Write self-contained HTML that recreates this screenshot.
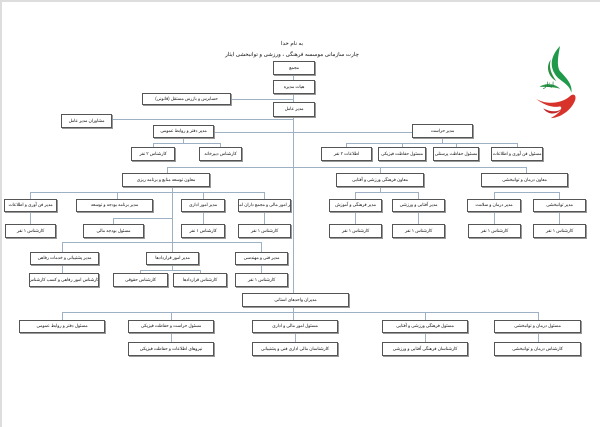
<!DOCTYPE html>
<html><head><meta charset="utf-8"><style>
body{margin:0;width:600px;height:427px;background:#fff;position:relative;overflow:hidden;font-family:"Liberation Sans","Noto Sans CJK SC",sans-serif}
.b{position:absolute;border:1px solid #555;box-shadow:1px 1px 0 #999;background:#fff;font-size:4.3px;line-height:1;display:flex;align-items:center;justify-content:center;color:#111;direction:rtl;white-space:nowrap;overflow:hidden;box-sizing:border-box}
.h{position:absolute;height:1px;background:#9db0c4}
.v{position:absolute;width:1px;background:#9db0c4}
.t{position:absolute;font-size:5.5px;color:#111;direction:rtl;width:600px;text-align:center;left:0}
</style></head><body>
<div style="position:absolute;left:0;top:0;width:600px;height:2px;background:#ddd"></div>
<div style="position:absolute;left:0;top:0;width:2px;height:427px;background:#ddd"></div>
<div class="t" style="top:41px;left:-8px">به نام خدا</div>
<div class="t" style="top:52px;left:-8px">چارت سازمانی موسسه فرهنگی ، ورزشی و توانبخشی ایثار</div>
<!-- lines -->
<div class="v" style="left:293px;top:75px;height:218px"></div>
<div class="h" style="left:231px;top:99px;width:62px"></div>
<div class="h" style="left:112px;top:119px;width:181px"></div>
<div class="h" style="left:214px;top:132px;width:198px"></div>
<div class="h" style="left:153px;top:143px;width:68px"></div>
<div class="v" style="left:183px;top:138px;height:5px"></div>
<div class="v" style="left:153px;top:143px;height:4px"></div>
<div class="v" style="left:220px;top:143px;height:4px"></div>
<div class="h" style="left:346px;top:143px;width:171px"></div>
<div class="v" style="left:442px;top:138px;height:5px"></div>
<div class="v" style="left:346px;top:143px;height:4px"></div>
<div class="v" style="left:402px;top:143px;height:4px"></div>
<div class="v" style="left:456px;top:143px;height:4px"></div>
<div class="v" style="left:517px;top:143px;height:4px"></div>
<div class="h" style="left:167px;top:167px;width:359px"></div>
<div class="v" style="left:167px;top:167px;height:7px"></div>
<div class="v" style="left:380px;top:167px;height:7px"></div>
<div class="v" style="left:526px;top:167px;height:7px"></div>
<div class="h" style="left:30px;top:192px;width:235px"></div>
<div class="v" style="left:30px;top:192px;height:7px"></div>
<div class="v" style="left:117px;top:192px;height:7px"></div>
<div class="v" style="left:203px;top:192px;height:7px"></div>
<div class="v" style="left:264px;top:192px;height:7px"></div>
<div class="v" style="left:172px;top:187px;height:55px"></div>
<div class="v" style="left:30px;top:211px;height:13px"></div>
<div class="h" style="left:113px;top:218px;width:59px"></div>
<div class="v" style="left:113px;top:218px;height:6px"></div>
<div class="v" style="left:203px;top:211px;height:13px"></div>
<div class="v" style="left:264px;top:211px;height:13px"></div>
<div class="h" style="left:355px;top:192px;width:63px"></div>
<div class="v" style="left:380px;top:187px;height:5px"></div>
<div class="v" style="left:355px;top:192px;height:7px"></div>
<div class="v" style="left:418px;top:192px;height:7px"></div>
<div class="v" style="left:355px;top:211px;height:13px"></div>
<div class="v" style="left:418px;top:211px;height:13px"></div>
<div class="h" style="left:494px;top:192px;width:65px"></div>
<div class="v" style="left:494px;top:192px;height:7px"></div>
<div class="v" style="left:559px;top:192px;height:7px"></div>
<div class="v" style="left:494px;top:211px;height:13px"></div>
<div class="v" style="left:559px;top:211px;height:13px"></div>
<div class="h" style="left:62px;top:242px;width:200px"></div>
<div class="v" style="left:62px;top:242px;height:10px"></div>
<div class="v" style="left:172px;top:242px;height:10px"></div>
<div class="v" style="left:261px;top:242px;height:10px"></div>
<div class="v" style="left:62px;top:265px;height:8px"></div>
<div class="h" style="left:140px;top:270px;width:60px"></div>
<div class="v" style="left:172px;top:265px;height:5px"></div>
<div class="v" style="left:140px;top:270px;height:3px"></div>
<div class="v" style="left:200px;top:270px;height:3px"></div>
<div class="v" style="left:261px;top:265px;height:8px"></div>
<div class="h" style="left:62px;top:312px;width:476px"></div>
<div class="v" style="left:293px;top:307px;height:13px"></div>
<div class="v" style="left:62px;top:312px;height:8px"></div>
<div class="v" style="left:171px;top:312px;height:8px"></div>
<div class="v" style="left:425px;top:312px;height:8px"></div>
<div class="v" style="left:538px;top:312px;height:8px"></div>
<div class="v" style="left:171px;top:333px;height:9px"></div>
<div class="v" style="left:295px;top:333px;height:9px"></div>
<div class="v" style="left:425px;top:333px;height:9px"></div>
<div class="v" style="left:538px;top:333px;height:9px"></div>
<!-- boxes -->
<div class="b" style="left:273px;top:61px;width:42px;height:14px">مجمع</div>
<div class="b" style="left:273px;top:80px;width:42px;height:14px">هیات مدیره</div>
<div class="b" style="left:142px;top:93px;width:89px;height:12px">حسابرس و بازرس مستقل (قانونی)</div>
<div class="b" style="left:273px;top:102px;width:42px;height:15px">مدیر عامل</div>
<div class="b" style="left:61px;top:114px;width:51px;height:14px">مشاوران مدیر عامل</div>
<div class="b" style="left:153px;top:125px;width:61px;height:13px">مدیر دفتر و روابط عمومی</div>
<div class="b" style="left:412px;top:124px;width:61px;height:14px">مدیر حراست</div>
<div class="b" style="left:131px;top:147px;width:44px;height:14px">کارشناس ۲ نفر</div>
<div class="b" style="left:199px;top:147px;width:43px;height:14px">کارشناس دبیرخانه</div>
<div class="b" style="left:321px;top:147px;width:51px;height:14px">اطلاعات ۲ نفر</div>
<div class="b" style="left:378px;top:147px;width:48px;height:14px">مسئول حفاظت فیزیکی</div>
<div class="b" style="left:433px;top:147px;width:46px;height:14px">مسئول حفاظت پرسنلی</div>
<div class="b" style="left:491px;top:147px;width:52px;height:14px">مسئول فن آوری و اطلاعات</div>
<div class="b" style="left:122px;top:173px;width:88px;height:14px">معاون توسعه منابع و برنامه ریزی</div>
<div class="b" style="left:336px;top:173px;width:88px;height:14px">معاون فرهنگی ورزشی و آفتابی</div>
<div class="b" style="left:481px;top:173px;width:87px;height:14px">معاون درمان و توانبخشی</div>
<div class="b" style="left:4px;top:199px;width:53px;height:13px">مدیر فن آوری و اطلاعات</div>
<div class="b" style="left:76px;top:199px;width:77px;height:13px">مدیر برنامه بودجه و توسعه</div>
<div class="b" style="left:181px;top:199px;width:44px;height:13px">مدیر امور اداری</div>
<div class="b" style="left:238px;top:199px;width:53px;height:13px">مدیر امور مالی و مجمع داران اموال</div>
<div class="b" style="left:329px;top:199px;width:53px;height:13px">مدیر فرهنگی و آموزش</div>
<div class="b" style="left:392px;top:199px;width:53px;height:13px">مدیر آفتابی و ورزشی</div>
<div class="b" style="left:467px;top:199px;width:54px;height:13px">مدیر درمان و سلامت</div>
<div class="b" style="left:533px;top:199px;width:53px;height:13px">مدیر توانبخشی</div>
<div class="b" style="left:5px;top:224px;width:51px;height:14px">کارشناس ۱ نفر</div>
<div class="b" style="left:83px;top:224px;width:61px;height:14px">مسئول بودجه مالی</div>
<div class="b" style="left:181px;top:224px;width:44px;height:14px">کارشناس ۱ نفر</div>
<div class="b" style="left:238px;top:224px;width:53px;height:14px">کارشناس ۱ نفر</div>
<div class="b" style="left:329px;top:224px;width:53px;height:14px">کارشناس ۱ نفر</div>
<div class="b" style="left:392px;top:224px;width:53px;height:14px">کارشناس ۱ نفر</div>
<div class="b" style="left:468px;top:224px;width:53px;height:14px">کارشناس ۱ نفر</div>
<div class="b" style="left:533px;top:224px;width:53px;height:14px">کارشناس ۱ نفر</div>
<div class="b" style="left:30px;top:252px;width:69px;height:13px">مدیر پشتیبانی و خدمات رفاهی</div>
<div class="b" style="left:146px;top:252px;width:53px;height:13px">مدیر امور قراردادها</div>
<div class="b" style="left:235px;top:252px;width:53px;height:13px">مدیر فنی و مهندسی</div>
<div class="b" style="left:29px;top:273px;width:70px;height:14px">کارشناس امور رفاهی و کسب کارشناس</div>
<div class="b" style="left:113px;top:273px;width:55px;height:14px">کارشناس حقوقی</div>
<div class="b" style="left:173px;top:273px;width:54px;height:14px">کارشناس قراردادها</div>
<div class="b" style="left:235px;top:273px;width:53px;height:14px">کارشناس ۱ نفر</div>
<div class="b" style="left:242px;top:293px;width:107px;height:14px">مدیران واحدهای استانی</div>
<div class="b" style="left:19px;top:320px;width:86px;height:13px">مسئول دفتر و روابط عمومی</div>
<div class="b" style="left:128px;top:320px;width:86px;height:13px">مسئول حراست و حفاظت فیزیکی</div>
<div class="b" style="left:252px;top:320px;width:86px;height:13px">مسئول امور مالی و اداری</div>
<div class="b" style="left:382px;top:320px;width:86px;height:13px">مسئول فرهنگی ورزشی و آفتابی</div>
<div class="b" style="left:494px;top:320px;width:87px;height:13px">مسئول درمان و توانبخشی</div>
<div class="b" style="left:128px;top:342px;width:86px;height:14px">نیروهای اطلاعات و حفاظت فیزیکی</div>
<div class="b" style="left:252px;top:342px;width:86px;height:14px">کارشناسان مالی اداری فنی و پشتیبانی</div>
<div class="b" style="left:382px;top:342px;width:86px;height:14px">کارشناسان فرهنگی آفتابی و ورزشی</div>
<div class="b" style="left:494px;top:342px;width:87px;height:14px">کارشناس درمان و توانبخشی</div>
<!-- logo -->
<svg style="position:absolute;left:532px;top:44px" width="58" height="78" viewBox="0 0 62 80" preserveAspectRatio="none">
<path d="M30 2 C22 10 18 20 24 30 C28 38 40 40 42 50 C44 42 36 34 30 28 C26 22 28 12 30 2Z" fill="#1f9a4a"/>
<path d="M20 16 C14 24 18 34 26 38 C20 30 18 24 20 16Z" fill="#2a8f3e"/>
<path d="M8 44 C14 40 24 40 30 46 C24 44 16 44 8 44Z" fill="#2a9a4a"/>
<path d="M4 56 C14 62 30 62 40 54 C44 50 48 52 46 58 C42 68 30 76 20 76 C28 72 34 66 30 64 C22 66 12 62 4 56Z" fill="#d8332b"/>
<path d="M12 66 C20 70 28 70 32 66 C28 72 18 74 12 66Z" fill="#c0282a"/>
<text x="12" y="44" font-size="7" fill="#1a7a3a" font-family="Noto Sans CJK SC,sans-serif">ایثار</text>
</svg>
</body></html>
